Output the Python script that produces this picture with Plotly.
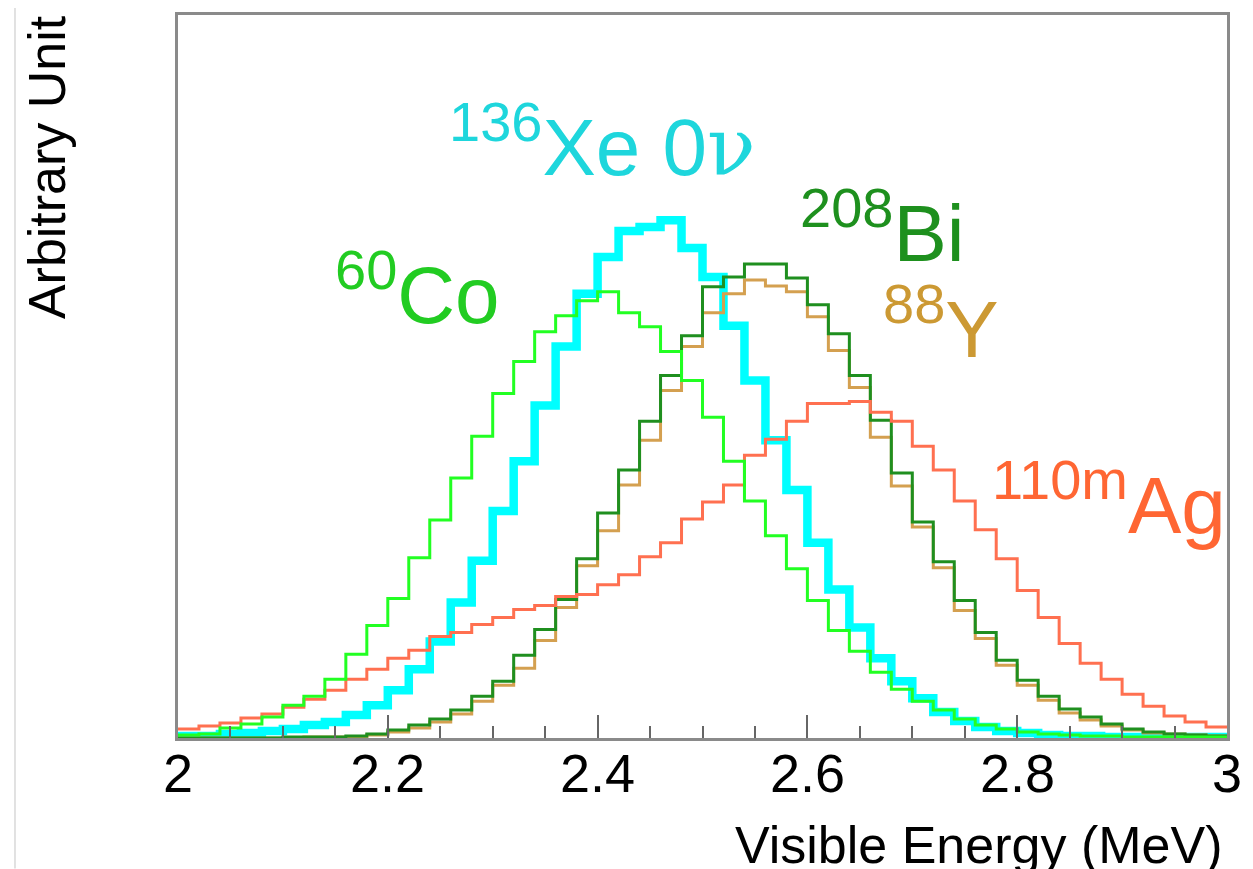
import plotly.graph_objects as go

# ---- data (50 bins of 0.02 MeV from 2.0 to 3.0), arbitrary units ----
bin_lo = 2.0
bin_w = 0.02
n_bins = 50

xe136 = [2, 2, 4, 5, 7, 9, 13, 16, 23, 33, 48, 69, 97, 136, 178, 228, 278, 334, 393, 446,
         483, 509, 513, 520, 492, 463, 414, 359, 299, 249, 196, 149, 111, 80, 57, 40, 26, 17, 11, 7,
         5, 3, 2, 2, 1, 1, 1, 1, 1, 1]
co60 = [3, 4, 10, 14, 21, 33, 42, 59, 84, 113, 140, 181, 219, 261, 303, 346, 378, 408, 424, 439,
        448, 427, 413, 388, 359, 322, 278, 238, 203, 170, 138, 108, 87, 66, 49, 37, 28, 19, 13, 9,
        6, 4, 3, 2, 2, 1, 1, 1, 1, 1]
bi208 = [0, 0, 0, 0, 0, 1, 1, 1, 2, 4, 8, 13, 19, 28, 42, 57, 83, 109, 139, 180,
         226, 269, 318, 364, 404, 453, 463, 476, 476, 462, 435, 406, 364, 319, 266, 217, 177, 138, 106, 78,
         58, 42, 29, 21, 14, 9, 6, 4, 3, 2]
y88 = [0, 0, 0, 0, 0, 0, 1, 1, 1, 3, 6, 10, 16, 24, 37, 53, 70, 98, 131, 173,
       208, 254, 299, 349, 393, 427, 446, 460, 454, 448, 423, 389, 352, 302, 253, 212, 171, 128, 100, 73,
       53, 38, 25, 18, 12, 8, 5, 4, 3, 2]
ag110m = [9, 12, 15, 20, 24, 31, 39, 48, 59, 69, 80, 88, 102, 106, 114, 121, 129, 133, 142, 144,
          154, 164, 182, 196, 220, 237, 254, 284, 300, 318, 336, 336, 338, 327, 318, 293, 269, 238, 209, 180,
          148, 121, 95, 75, 59, 44, 32, 22, 16, 11]

x_ticks = [2.0, 2.2, 2.4, 2.6, 2.8, 3.0]
x_ticklabels = ["2", "2.2", "2.4", "2.6", "2.8", "3"]

edges = [bin_lo + bin_w * i for i in range(n_bins + 1)]

FONT = "Liberation Sans, Arial, Helvetica, sans-serif"


def step_trace(vals, color, width, name):
    return go.Scatter(
        x=edges,
        y=list(vals) + [vals[-1]],
        mode="lines",
        line=dict(color=color, width=width, shape="hv"),
        name=name,
        showlegend=False,
        hoverinfo="skip",
    )


fig = go.Figure()
fig.add_trace(step_trace(xe136, "#00FFFF", 8.5, "136Xe 0nu"))
fig.add_trace(step_trace(y88, "#D4A050", 3, "88Y"))
fig.add_trace(step_trace(bi208, "#1F8F1F", 3, "208Bi"))
fig.add_trace(step_trace(ag110m, "#FF7050", 3, "110mAg"))
fig.add_trace(step_trace(co60, "#22FF22", 3, "60Co"))

labels = [
    # (text, x data, y data, color)
    ("<sup>136</sup>Xe 0<span style=\"font-family:'DejaVu Serif'\">ν</span>", 2.256, 598, "#1ED6DC"),
    ("<sup>60</sup>Co", 2.1476, 451, "#22CC22"),
    ("<sup>208</sup>Bi", 2.5914, 513, "#1E901E"),
    ("<sup>88</sup>Y", 2.6705, 417, "#CC9933"),
    ("<sup>110m</sup>Ag", 2.7743, 240, "#FF6633"),
]
annotations = []
for txt, lx, ly, col in labels:
    annotations.append(dict(
        text=txt, x=lx, y=ly, xref="x", yref="y",
        xanchor="left", yanchor="middle", showarrow=False,
        font=dict(family=FONT, size=80, color=col),
    ))

# x tick labels
for tv, tl in zip(x_ticks, x_ticklabels):
    annotations.append(dict(
        text=tl, x=tv, y=-0.0482, xref="x", yref="paper",
        xanchor="center", yanchor="middle", showarrow=False,
        font=dict(family=FONT, size=54, color="#000000"),
    ))

annotations.append(dict(
    text="Arbitrary Unit", xref="paper", yref="paper",
    x=-0.1253, y=0.789, xanchor="center", yanchor="middle",
    textangle=-90, showarrow=False,
    font=dict(family=FONT, size=52, color="#000000"),
))
annotations.append(dict(
    text="Visible Energy (MeV)", xref="paper", yref="paper",
    x=0.9971, y=-0.148, xanchor="right", yanchor="middle",
    showarrow=False,
    font=dict(family=FONT, size=52, color="#000000"),
))

fig.update_layout(
    width=1245, height=861,
    margin=dict(l=170, r=26, t=4, b=131),
    paper_bgcolor="white", plot_bgcolor="white",
    annotations=annotations,
    shapes=[dict(type="line", xref="paper", yref="paper",
                 x0=-0.1554, x1=-0.1554, y0=-0.1804, y1=1.0165,
                 line=dict(color="#D8D8D8", width=1.5))],
)
fig.update_xaxes(
    range=[2.0, 3.0],
    tickvals=x_ticks, showticklabels=False,
    ticks="inside", ticklen=23, tickwidth=2, tickcolor="#666666",
    minor=dict(dtick=0.05, tick0=2.0, ticks="inside", ticklen=12, tickwidth=2, tickcolor="#666666"),
    showline=True, linecolor="#8A8A8A", linewidth=2.5, mirror=True,
    showgrid=False, zeroline=False,
)
fig.update_yaxes(
    range=[0, 726],
    showticklabels=False, ticks="",
    showline=True, linecolor="#8A8A8A", linewidth=2.5, mirror=True,
    showgrid=False, zeroline=False,
)

fig.write_html("out.html")
